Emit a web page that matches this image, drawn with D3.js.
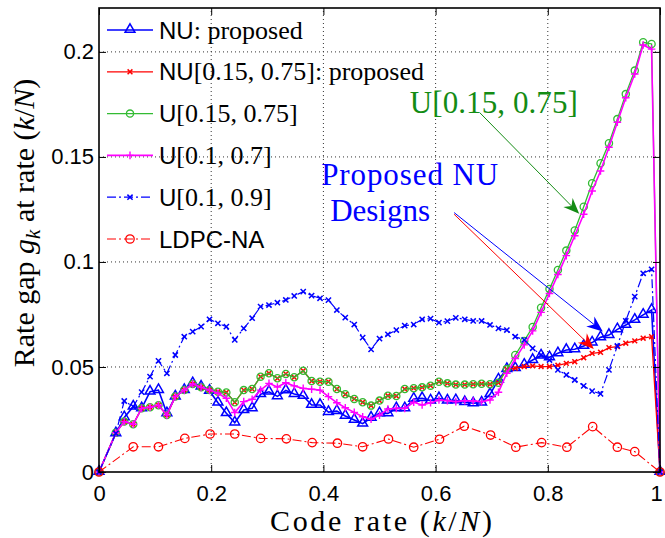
<!DOCTYPE html>
<html>
<head>
<meta charset="utf-8">
<script src="https://cdnjs.cloudflare.com/ajax/libs/d3/7.8.5/d3.min.js"></script>
<style>
body { margin: 0; background: #fff; }
</style>
</head>
<body>
<svg id="grafica"></svg>
<script>
// tasas (k/N) comunes a las curvas densas
var tasas = [0, 0.030, 0.045, 0.061, 0.076, 0.091, 0.106, 0.121, 0.136, 0.152, 0.167, 0.182, 0.197, 0.212, 0.227, 0.242,
	0.258, 0.273, 0.288, 0.303, 0.318, 0.333, 0.348, 0.364, 0.379, 0.394, 0.409, 0.424, 0.439, 0.455, 0.470, 0.485,
	0.500, 0.515, 0.530, 0.545, 0.561, 0.576, 0.591, 0.606, 0.621, 0.636, 0.652, 0.667, 0.682, 0.697, 0.712, 0.727,
	0.742, 0.758, 0.773, 0.788, 0.803, 0.818, 0.833, 0.848, 0.864, 0.879, 0.894, 0.909, 0.924, 0.939, 0.955, 0.970, 0.985, 1.0];

var gapNU = [0, 0.0184, 0.0260, 0.0311, 0.0303, 0.0382, 0.0390, 0.0279, 0.0359, 0.0390, 0.0422, 0.0406, 0.0386, 0.0330, 0.0280, 0.0235,
	0.0295, 0.0303, 0.0370, 0.0382, 0.0360, 0.0388, 0.0371, 0.0362, 0.0319, 0.0319, 0.0285, 0.0290, 0.0267, 0.0248, 0.0230, 0.0258,
	0.0279, 0.0279, 0.0303, 0.0303, 0.0348, 0.0351, 0.0340, 0.0351, 0.0340, 0.0341, 0.0332, 0.0327, 0.0330, 0.0370, 0.0440, 0.0490,
	0.0494, 0.0510, 0.0533, 0.0554, 0.0546, 0.0565, 0.0581, 0.0584, 0.0600, 0.0616, 0.0641, 0.0652, 0.0679, 0.0700, 0.0724, 0.0748, 0.0771, 0];

var gapNU1575 = [0, 0.0187, 0.0240, 0.0227, 0.0303, 0.0308, 0.0318, 0.0271, 0.0359, 0.0390, 0.0419, 0.0403, 0.0390, 0.0382, 0.0379, 0.0332,
	0.0390, 0.0395, 0.0454, 0.0470, 0.0446, 0.0467, 0.0451, 0.0482, 0.0433, 0.0430, 0.0430, 0.0395, 0.0370, 0.0348, 0.0332, 0.0316,
	0.0340, 0.0363, 0.0362, 0.0395, 0.0399, 0.0403, 0.0411, 0.0430, 0.0422, 0.0416, 0.0416, 0.0418, 0.0420, 0.0418, 0.0425, 0.0490,
	0.0494, 0.0502, 0.0505, 0.0502, 0.0502, 0.0508, 0.0517, 0.0525, 0.0544, 0.0565, 0.0570, 0.0592, 0.0597, 0.0613, 0.0624, 0.0637, 0.0644, 0];

var gapU1575 = [0, 0.0187, 0.0240, 0.0227, 0.0303, 0.0308, 0.0318, 0.0271, 0.0359, 0.0390, 0.0419, 0.0403, 0.0390, 0.0382, 0.0379, 0.0332,
	0.0390, 0.0395, 0.0454, 0.0470, 0.0446, 0.0467, 0.0451, 0.0482, 0.0433, 0.0430, 0.0430, 0.0395, 0.0370, 0.0348, 0.0332, 0.0316,
	0.0340, 0.0363, 0.0362, 0.0395, 0.0399, 0.0403, 0.0411, 0.0430, 0.0422, 0.0416, 0.0416, 0.0418, 0.0420, 0.0418, 0.0425, 0.0490,
	0.0557, 0.0624, 0.0690, 0.0782, 0.0871, 0.0962, 0.1054, 0.1150, 0.1263, 0.1375, 0.1470, 0.1565, 0.1680, 0.1799, 0.1911, 0.2046, 0.2038, 0];

var gapU107 = [0, 0.0187, 0.0240, 0.0227, 0.0303, 0.0308, 0.0318, 0.0271, 0.0359, 0.0390, 0.0419, 0.0403, 0.0390, 0.0375, 0.0351, 0.0283,
	0.0335, 0.0346, 0.0390, 0.0422, 0.0405, 0.0425, 0.0410, 0.0398, 0.0394, 0.0390, 0.0359, 0.0330, 0.0306, 0.0284, 0.0263, 0.0251,
	0.0271, 0.0300, 0.0303, 0.0303, 0.0332, 0.0319, 0.0330, 0.0343, 0.0340, 0.0335, 0.0340, 0.0338, 0.0335, 0.0343, 0.0380, 0.0470,
	0.0540, 0.0605, 0.0672, 0.0760, 0.0850, 0.0940, 0.1030, 0.1125, 0.1227, 0.1338, 0.1433, 0.1546, 0.1665, 0.1782, 0.1895, 0.2033, 0.2013, 0];

var gapU109 = [0, 0.0184, 0.0338, 0.0311, 0.0380, 0.0454, 0.0529, 0.0470, 0.0557, 0.0644, 0.0668, 0.0692, 0.0727, 0.0708, 0.0692, 0.0629,
	0.0684, 0.0732, 0.0787, 0.0795, 0.0806, 0.0819, 0.0838, 0.0859, 0.0840, 0.0827, 0.0818, 0.0771, 0.0735, 0.0702, 0.0640, 0.0584,
	0.0635, 0.0655, 0.0676, 0.0697, 0.0702, 0.0727, 0.0730, 0.0711, 0.0718, 0.0734, 0.0727, 0.0719, 0.0719, 0.0700, 0.0684, 0.0676,
	0.0644, 0.0629, 0.0589, 0.0557, 0.0533, 0.0486, 0.0462, 0.0438, 0.0410, 0.0385, 0.0372, 0.0486, 0.0600, 0.0720, 0.0835, 0.0946, 0.0965, 0];

var tasasLDPC = [0, 0.061, 0.106, 0.153, 0.198, 0.242, 0.288, 0.334, 0.380, 0.425, 0.470, 0.516, 0.561, 0.607, 0.651, 0.698,
	0.743, 0.789, 0.834, 0.880, 0.924, 0.955, 1.0];
var gapLDPC = [0, 0.0120, 0.0120, 0.0160, 0.0181, 0.0181, 0.0160, 0.0158, 0.0140, 0.0137, 0.0120, 0.0157, 0.0118, 0.0156, 0.0218, 0.0176,
	0.0118, 0.0140, 0.0118, 0.0216, 0.0118, 0.0097, 0];

var ticksX = [0, 0.2, 0.4, 0.6, 0.8, 1];
var ticksY = [0, 0.05, 0.1, 0.15, 0.2];
var etiquetasX = ["0", "0.2", "0.4", "0.6", "0.8", "1"];
var etiquetasY = ["0", "0.05", "0.1", "0.15", "0.2"];

var SANS = "'Liberation Sans', Arial, sans-serif";
var SERIF = "'Liberation Serif', 'Times New Roman', serif";

var w = 665, h = 538;
var m = {izq: 99, der: 5, arr: 8, aba: 66};

var svg = d3.select("#grafica").attr("width", w).attr("height", h);

var x = d3.scaleLinear().domain([0, 1]).range([m.izq, w - m.der]);
var y = d3.scaleLinear().domain([0, 0.2209]).range([h - m.aba, m.arr]);

var series = [
	{tasas: tasas, gap: gapNU, color: "#0000ff", ancho: 1.6, dash: null, marca: "tri",
		texto: [["NU", SANS], [": proposed", SERIF]]},
	{tasas: tasas, gap: gapNU1575, color: "#ff0000", ancho: 1.3, dash: null, marca: "x",
		texto: [["NU", SANS], ["[0.15, 0.75]: proposed", SERIF]]},
	{tasas: tasas, gap: gapU1575, color: "#33bb33", ancho: 1.3, dash: null, marca: "circ",
		texto: [["U", SANS], ["[0.15, 0.75]", SERIF]]},
	{tasas: tasas, gap: gapU107, color: "#ff00ff", ancho: 1.6, dash: null, marca: "mas",
		texto: [["U", SANS], ["[0.1, 0.7]", SERIF]]},
	{tasas: tasas, gap: gapU109, color: "#0000ff", ancho: 1.2, dash: "9,3,2,3", marca: "xs",
		texto: [["U", SANS], ["[0.1, 0.9]", SERIF]]},
	{tasas: tasasLDPC, gap: gapLDPC, color: "#ff0000", ancho: 1.1, dash: "9,3,2,3", marca: "circr",
		texto: [["LDPC-NA", SANS]]}
];

function dibujarMarca(g, tipo, px, py, color) {
	if (tipo == "tri") {
		g.append("path").attr("d", d3.symbol().type(d3.symbolTriangle).size(42)())
			.attr("transform", "translate(" + px + "," + (py - 0.5) + ")")
			.attr("fill", "none").attr("stroke", color).attr("stroke-width", 1.5);
	} else if (tipo == "circ" || tipo == "circr") {
		g.append("circle").attr("cx", px).attr("cy", py).attr("r", tipo == "circ" ? 3.6 : 4.2)
			.attr("fill", "none").attr("stroke", color).attr("stroke-width", 1.3);
	} else if (tipo == "mas") {
		var s = 3.8;
		g.append("path").attr("d", "M" + (px - s) + "," + py + "H" + (px + s) + "M" + px + "," + (py - s) + "V" + (py + s))
			.attr("stroke", color).attr("stroke-width", 1.4);
	} else {
		var s = tipo == "x" ? 2.4 : 2.6;
		g.append("path").attr("d", "M" + (px - s) + "," + (py - s) + "L" + (px + s) + "," + (py + s) +
			"M" + (px - s) + "," + (py + s) + "L" + (px + s) + "," + (py - s))
			.attr("stroke", color).attr("stroke-width", 1.5);
	}
}

// rejilla punteada
svg.append("g").selectAll("line").data(ticksX.slice(1, -1)).enter().append("line")
	.attr("x1", function(d) { return x(d); }).attr("x2", function(d) { return x(d); })
	.attr("y1", y.range()[0]).attr("y2", y.range()[1])
	.attr("stroke", "#333").attr("stroke-width", 1).attr("stroke-dasharray", "1,3");
svg.append("g").selectAll("line").data(ticksY.slice(1)).enter().append("line")
	.attr("y1", function(d) { return y(d); }).attr("y2", function(d) { return y(d); })
	.attr("x1", x.range()[0]).attr("x2", x.range()[1])
	.attr("stroke", "#333").attr("stroke-width", 1).attr("stroke-dasharray", "1,3");

// curvas
var linea = d3.line();
series.forEach(function(s) {
	var pts = s.tasas.map(function(t, i) { return [x(t), y(s.gap[i])]; });
	var g = svg.append("g");
	g.append("path").attr("d", linea(pts)).attr("fill", "none")
		.attr("stroke", s.color).attr("stroke-width", s.ancho)
		.attr("stroke-dasharray", s.dash);
	pts.forEach(function(p) { dibujarMarca(g, s.marca, p[0], p[1], s.color); });
});

// ejes con marcas hacia dentro
var ejeX = svg.append("g").attr("transform", "translate(0," + y(0) + ")")
	.call(d3.axisBottom(x).tickValues(ticksX).tickSize(-7).tickSizeOuter(0).tickPadding(13)
		.tickFormat(function(d, i) { return etiquetasX[i]; }));
var ejeY = svg.append("g").attr("transform", "translate(" + x(0) + ",0)")
	.call(d3.axisLeft(y).tickValues(ticksY).tickSize(-7).tickSizeOuter(0).tickPadding(5)
		.tickFormat(function(d, i) { return etiquetasY[i]; }));
svg.append("g").attr("transform", "translate(0," + y.range()[1] + ")")
	.call(d3.axisTop(x).tickValues(ticksX).tickSize(-7).tickSizeOuter(0).tickFormat(""));
svg.append("g").attr("transform", "translate(" + x(1) + ",0)")
	.call(d3.axisRight(y).tickValues(ticksY).tickSize(-7).tickSizeOuter(0).tickFormat(""));
svg.selectAll(".domain").remove();
svg.selectAll(".tick line").attr("stroke", "#000").attr("stroke-width", 1);
svg.selectAll(".tick text").attr("font-family", SANS).attr("font-size", 22).attr("fill", "#000");
// la etiqueta "1" queda pegada al borde: se corre un poco
ejeX.selectAll(".tick text").filter(function(d) { return d == 1; }).attr("dx", -4);

svg.append("rect").attr("x", x(0)).attr("y", y.range()[1])
	.attr("width", x(1) - x(0)).attr("height", y(0) - y.range()[1])
	.attr("fill", "none").attr("stroke", "#000").attr("stroke-width", 1.6);

// titulos de ejes
var tx = svg.append("text").attr("x", 381).attr("y", 531).attr("text-anchor", "middle")
	.attr("font-family", SERIF).attr("font-size", 30).attr("textLength", 222).attr("lengthAdjust", "spacing");
tx.append("tspan").text("Code rate (");
tx.append("tspan").attr("font-style", "italic").text("k");
tx.append("tspan").text("/");
tx.append("tspan").attr("font-style", "italic").text("N");
tx.append("tspan").text(")");

var ty = svg.append("text").attr("transform", "translate(34,223) rotate(-90)").attr("text-anchor", "middle")
	.attr("font-family", SERIF).attr("font-size", 30);
ty.append("tspan").text("Rate gap ");
ty.append("tspan").attr("font-style", "italic").text("g");
ty.append("tspan").attr("font-style", "italic").attr("font-size", 21).attr("dy", 6).text("k");
ty.append("tspan").attr("dy", -6).text(" at rate (");
ty.append("tspan").attr("font-style", "italic").text("k");
ty.append("tspan").text("/");
ty.append("tspan").attr("font-style", "italic").text("N");
ty.append("tspan").text(")");

// leyenda sin caja
var leyenda = svg.append("g");
series.forEach(function(s, i) {
	var cy = 30 + i * 41.8;
	leyenda.append("line").attr("x1", 107).attr("x2", 153).attr("y1", cy).attr("y2", cy)
		.attr("stroke", s.color).attr("stroke-width", s.ancho).attr("stroke-dasharray", s.dash);
	dibujarMarca(leyenda, s.marca, 130, cy, s.color);
	var t = leyenda.append("text").attr("x", 159).attr("y", cy + 8.5).attr("fill", "#000");
	s.texto.forEach(function(p) {
		t.append("tspan").attr("font-family", p[1]).attr("font-size", p[1] == SANS ? 24 : 26).text(p[0]);
	});
});

// anotaciones con flechas
function flecha(x0, y0, x1, y1, color) {
	var ax = x(x0), ay = y(y0), bx = x(x1), by = y(y1);
	var dx = bx - ax, dy = by - ay, L = Math.sqrt(dx * dx + dy * dy);
	var ux = dx / L, uy = dy / L, nx = -uy, ny = ux;
	var largo = 16, medio = 6.5, muesca = 5;
	svg.append("line").attr("x1", ax).attr("y1", ay)
		.attr("x2", bx - ux * (largo - muesca)).attr("y2", by - uy * (largo - muesca))
		.attr("stroke", color).attr("stroke-width", 1);
	var pts = [[bx, by], [bx - ux * largo + nx * medio, by - uy * largo + ny * medio],
		[bx - ux * (largo - muesca), by - uy * (largo - muesca)],
		[bx - ux * largo - nx * medio, by - uy * largo - ny * medio]];
	svg.append("path").attr("d", "M" + pts.join("L") + "Z").attr("fill", color).attr("stroke", "none");
}

flecha(0.679, 0.171, 0.856, 0.1229, "#148c14");
flecha(0.633, 0.1235, 0.898, 0.0669, "#0000ff");
flecha(0.633, 0.1227, 0.882, 0.0585, "#ff0000");

svg.append("text").attr("x", x(0.554)).attr("y", y(0.171)).attr("font-family", SERIF).attr("font-size", 31)
	.attr("fill", "#148c14").attr("textLength", 168).attr("lengthAdjust", "spacing").text("U[0.15, 0.75]");
svg.append("text").attr("x", x(0.396)).attr("y", y(0.1367)).attr("font-family", SERIF).attr("font-size", 31)
	.attr("fill", "#0000ff").attr("textLength", 177).attr("lengthAdjust", "spacing").text("Proposed NU");
svg.append("text").attr("x", x(0.412)).attr("y", y(0.1195)).attr("font-family", SERIF).attr("font-size", 31)
	.attr("fill", "#0000ff").text("Designs");
</script>
</body>
</html>
